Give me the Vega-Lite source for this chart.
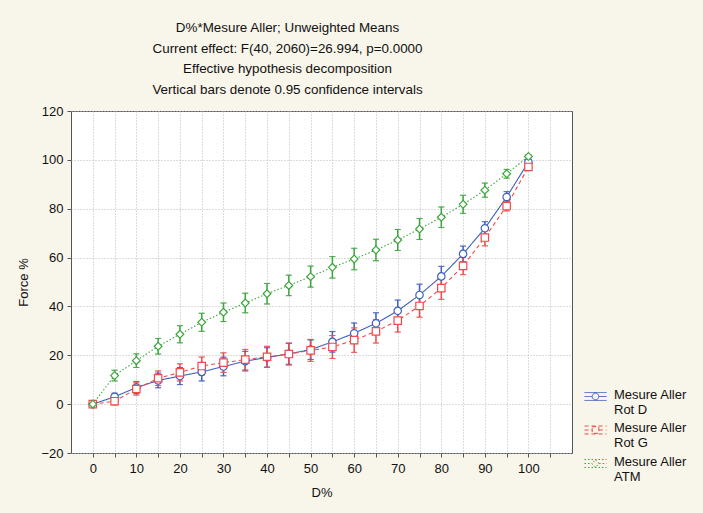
{
  "$schema": "https://vega.github.io/schema/vega-lite/v6.json",
  "width": 501,
  "height": 342,
  "autosize": "none",
  "padding": {"left": 71, "top": 111, "right": 131, "bottom": 60},
  "background": "#f8f5ea",
  "title": {
    "text": ["D%*Mesure Aller; Unweighted Means", "Current effect: F(40, 2060)=26.994, p=0.0000", "Effective hypothesis decomposition", "Vertical bars denote 0.95 confidence intervals"],
    "font": "Liberation Sans",
    "fontSize": 13.4,
    "fontWeight": "normal",
    "color": "#111",
    "lineHeight": 20.4,
    "anchor": "middle",
    "dx": -34,
    "offset": 9
  },
  "config": {
    "view": {"fill": "white", "stroke": "#555", "strokeWidth": 1},
    "axis": {
      "labelFont": "Liberation Sans",
      "labelFontSize": 13,
      "labelColor": "#111",
      "titleFont": "Liberation Sans",
      "titleFontSize": 13,
      "titleFontWeight": "normal",
      "titleColor": "#111",
      "grid": true,
      "gridColor": "#b8b8b8",
      "gridDash": [1, 2],
      "domain": false,
      "tickColor": "#555",
      "tickSize": 4
    }
  },
  "datasets": {
    "pts": [
      {"D": 0, "serie": "Mesure Aller|Rot D", "m": 0, "lo": 0, "hi": 0},
      {"D": 5, "serie": "Mesure Aller|Rot D", "m": 3.0, "lo": 1.5, "hi": 4.5},
      {"D": 10, "serie": "Mesure Aller|Rot D", "m": 6.8, "lo": 4.3, "hi": 9.3},
      {"D": 15, "serie": "Mesure Aller|Rot D", "m": 9.7, "lo": 6.7, "hi": 12.7},
      {"D": 20, "serie": "Mesure Aller|Rot D", "m": 11.5, "lo": 8.0, "hi": 15.0},
      {"D": 25, "serie": "Mesure Aller|Rot D", "m": 13.2, "lo": 9.5, "hi": 16.9},
      {"D": 30, "serie": "Mesure Aller|Rot D", "m": 15.4, "lo": 11.6, "hi": 19.2},
      {"D": 35, "serie": "Mesure Aller|Rot D", "m": 17.6, "lo": 13.6, "hi": 21.6},
      {"D": 40, "serie": "Mesure Aller|Rot D", "m": 19.1, "lo": 15.1, "hi": 23.1},
      {"D": 45, "serie": "Mesure Aller|Rot D", "m": 20.6, "lo": 16.3, "hi": 24.9},
      {"D": 50, "serie": "Mesure Aller|Rot D", "m": 22.3, "lo": 18.3, "hi": 26.3},
      {"D": 55, "serie": "Mesure Aller|Rot D", "m": 25.5, "lo": 21.3, "hi": 29.7},
      {"D": 60, "serie": "Mesure Aller|Rot D", "m": 29.0, "lo": 24.8, "hi": 33.2},
      {"D": 65, "serie": "Mesure Aller|Rot D", "m": 33.1, "lo": 28.8, "hi": 37.4},
      {"D": 70, "serie": "Mesure Aller|Rot D", "m": 38.2, "lo": 33.8, "hi": 42.6},
      {"D": 75, "serie": "Mesure Aller|Rot D", "m": 44.7, "lo": 40.3, "hi": 49.1},
      {"D": 80, "serie": "Mesure Aller|Rot D", "m": 52.3, "lo": 48.2, "hi": 56.4},
      {"D": 85, "serie": "Mesure Aller|Rot D", "m": 61.5, "lo": 58.3, "hi": 64.7},
      {"D": 90, "serie": "Mesure Aller|Rot D", "m": 72.0, "lo": 69.3, "hi": 74.7},
      {"D": 95, "serie": "Mesure Aller|Rot D", "m": 84.8, "lo": 82.6, "hi": 87.0},
      {"D": 100, "serie": "Mesure Aller|Rot D", "m": 99.1, "lo": 98.1, "hi": 100.1},
      {"D": 0, "serie": "Mesure Aller|Rot G", "m": 0, "lo": 0, "hi": 0},
      {"D": 5, "serie": "Mesure Aller|Rot G", "m": 1.2, "lo": -0.3, "hi": 2.7},
      {"D": 10, "serie": "Mesure Aller|Rot G", "m": 6.2, "lo": 3.7, "hi": 8.7},
      {"D": 15, "serie": "Mesure Aller|Rot G", "m": 10.6, "lo": 7.6, "hi": 13.6},
      {"D": 20, "serie": "Mesure Aller|Rot G", "m": 13.0, "lo": 9.5, "hi": 16.5},
      {"D": 25, "serie": "Mesure Aller|Rot G", "m": 15.6, "lo": 11.9, "hi": 19.3},
      {"D": 30, "serie": "Mesure Aller|Rot G", "m": 17.0, "lo": 13.0, "hi": 21.0},
      {"D": 35, "serie": "Mesure Aller|Rot G", "m": 18.2, "lo": 14.0, "hi": 22.4},
      {"D": 40, "serie": "Mesure Aller|Rot G", "m": 19.4, "lo": 15.1, "hi": 23.7},
      {"D": 45, "serie": "Mesure Aller|Rot G", "m": 20.5, "lo": 16.0, "hi": 25.0},
      {"D": 50, "serie": "Mesure Aller|Rot G", "m": 22.0, "lo": 17.5, "hi": 26.5},
      {"D": 55, "serie": "Mesure Aller|Rot G", "m": 23.4, "lo": 18.7, "hi": 28.1},
      {"D": 60, "serie": "Mesure Aller|Rot G", "m": 26.2, "lo": 21.2, "hi": 31.2},
      {"D": 65, "serie": "Mesure Aller|Rot G", "m": 29.8, "lo": 25.0, "hi": 34.6},
      {"D": 70, "serie": "Mesure Aller|Rot G", "m": 34.2, "lo": 29.5, "hi": 38.9},
      {"D": 75, "serie": "Mesure Aller|Rot G", "m": 40.2, "lo": 35.6, "hi": 44.8},
      {"D": 80, "serie": "Mesure Aller|Rot G", "m": 47.5, "lo": 42.9, "hi": 52.1},
      {"D": 85, "serie": "Mesure Aller|Rot G", "m": 56.6, "lo": 53.0, "hi": 60.2},
      {"D": 90, "serie": "Mesure Aller|Rot G", "m": 68.2, "lo": 64.8, "hi": 71.6},
      {"D": 95, "serie": "Mesure Aller|Rot G", "m": 81.1, "lo": 79.1, "hi": 83.1},
      {"D": 100, "serie": "Mesure Aller|Rot G", "m": 97.1, "lo": 96.1, "hi": 98.1},
      {"D": 0, "serie": "Mesure Aller|ATM", "m": 0, "lo": 0, "hi": 0},
      {"D": 5, "serie": "Mesure Aller|ATM", "m": 11.7, "lo": 9.5, "hi": 13.9},
      {"D": 10, "serie": "Mesure Aller|ATM", "m": 17.8, "lo": 15.0, "hi": 20.6},
      {"D": 15, "serie": "Mesure Aller|ATM", "m": 23.7, "lo": 20.5, "hi": 26.9},
      {"D": 20, "serie": "Mesure Aller|ATM", "m": 28.6, "lo": 25.1, "hi": 32.1},
      {"D": 25, "serie": "Mesure Aller|ATM", "m": 33.5, "lo": 29.8, "hi": 37.2},
      {"D": 30, "serie": "Mesure Aller|ATM", "m": 37.6, "lo": 33.8, "hi": 41.4},
      {"D": 35, "serie": "Mesure Aller|ATM", "m": 41.4, "lo": 37.4, "hi": 45.4},
      {"D": 40, "serie": "Mesure Aller|ATM", "m": 45.2, "lo": 41.0, "hi": 49.4},
      {"D": 45, "serie": "Mesure Aller|ATM", "m": 48.6, "lo": 44.4, "hi": 52.8},
      {"D": 50, "serie": "Mesure Aller|ATM", "m": 52.2, "lo": 47.9, "hi": 56.5},
      {"D": 55, "serie": "Mesure Aller|ATM", "m": 56.0, "lo": 51.6, "hi": 60.4},
      {"D": 60, "serie": "Mesure Aller|ATM", "m": 59.4, "lo": 55.0, "hi": 63.8},
      {"D": 65, "serie": "Mesure Aller|ATM", "m": 63.1, "lo": 58.7, "hi": 67.5},
      {"D": 70, "serie": "Mesure Aller|ATM", "m": 67.2, "lo": 62.9, "hi": 71.5},
      {"D": 75, "serie": "Mesure Aller|ATM", "m": 71.7, "lo": 67.4, "hi": 76.0},
      {"D": 80, "serie": "Mesure Aller|ATM", "m": 76.5, "lo": 72.3, "hi": 80.7},
      {"D": 85, "serie": "Mesure Aller|ATM", "m": 81.8, "lo": 78.1, "hi": 85.5},
      {"D": 90, "serie": "Mesure Aller|ATM", "m": 87.6, "lo": 84.7, "hi": 90.5},
      {"D": 95, "serie": "Mesure Aller|ATM", "m": 94.3, "lo": 92.5, "hi": 96.1},
      {"D": 100, "serie": "Mesure Aller|ATM", "m": 101.4, "lo": 100.8, "hi": 102.0}
    ]
  },
  "data": {"name": "pts"},
  "encoding": {
    "x": {
      "field": "D", "type": "quantitative",
      "scale": {"domain": [-5, 110], "nice": false, "zero": false},
      "axis": {
        "title": "D%",
        "values": [0, 5, 10, 15, 20, 25, 30, 35, 40, 45, 50, 55, 60, 65, 70, 75, 80, 85, 90, 95, 100, 105],
        "labelExpr": "datum.value % 10 == 0 ? datum.label : ''",
        "labelPadding": 5,
        "titlePadding": 11
      }
    },
    "color": {
      "field": "serie", "type": "nominal",
      "scale": {"domain": ["Mesure Aller|Rot D", "Mesure Aller|Rot G", "Mesure Aller|ATM"], "range": ["#3f5fbf", "#f04a4a", "#3da53d"]},
      "legend": {
        "title": null,
        "orient": "none",
        "legendX": 513,
        "legendY": 274,
        "labelExpr": "split(datum.label, '|')",
        "labelFont": "Liberation Sans",
        "labelFontSize": 13,
        "labelColor": "#111",
        "labelBaseline": "top",
        "labelOffset": 7,
        "symbolSize": 484,
        "symbolStrokeWidth": 1,
        "symbolOpacity": 1,
        "rowPadding": 1.5,
        "labelLimit": 200,
        "encode": {
          "symbols": {
            "update": {
              "shape": {"signal": "datum.value == 'Mesure Aller|Rot D' ? 'M-1,-0.36H1M-1,0.36H1M0,-0.36V-0.3M0,0.3V0.36M-1,0H-0.3M0.3,0H1M-0.3,0A0.3,0.3 0 1,0 0.3,0A0.3,0.3 0 1,0 -0.3,0' : datum.value == 'Mesure Aller|Rot G' ? 'M-1,-0.36H1M-1,0.36H1M0,-0.36V-0.3M0,0.3V0.36M-1,0H-0.3M0.3,0H1M-0.3,-0.3H0.3V0.3H-0.3Z' : 'M-1,-0.36H1M-1,0.36H1M0,-0.36V-0.33M0,0.33V0.36M-1,0H-0.33M0.33,0H1M0,-0.33L0.33,0L0,0.33L-0.33,0Z'"},
              "fill": {"value": "transparent"},
              "strokeWidth": {"value": 1}
            }
          },
          "labels": {
            "update": {
              "dy": {"value": -8}
            }
          }
        }
      }
    }
  },
  "layer": [
    {
      "mark": {"type": "line", "strokeWidth": 1.1},
      "encoding": {
        "y": {
          "field": "m", "type": "quantitative",
          "scale": {"domain": [-20, 120], "nice": false},
          "axis": {
            "title": "Force %",
            "values": [-20, 0, 20, 40, 60, 80, 100, 120],
            "labelPadding": 4,
            "titlePadding": 10
          }
        },
        "strokeDash": {
          "field": "serie", "type": "nominal",
          "scale": {"domain": ["Mesure Aller|Rot D", "Mesure Aller|Rot G", "Mesure Aller|ATM"], "range": [[1, 0], [4, 3], [1.5, 2]]},
          "legend": null
        }
      }
    },
    {
      "mark": {"type": "rule", "strokeWidth": 1.5},
      "encoding": {
        "y": {"field": "lo", "type": "quantitative"},
        "y2": {"field": "hi"}
      }
    },
    {
      "mark": {"type": "tick", "orient": "horizontal", "size": 6, "thickness": 0.01, "filled": false, "strokeWidth": 1},
      "encoding": {"y": {"field": "lo", "type": "quantitative"}}
    },
    {
      "mark": {"type": "tick", "orient": "horizontal", "size": 6, "thickness": 0.01, "filled": false, "strokeWidth": 1},
      "encoding": {"y": {"field": "hi", "type": "quantitative"}}
    },
    {
      "transform": [{"filter": "datum.serie == 'Mesure Aller|Rot D'"}],
      "mark": {"type": "point", "shape": "circle", "filled": false, "fill": "white", "fillOpacity": 1, "size": 55, "strokeWidth": 1.2, "opacity": 1},
      "encoding": {"y": {"field": "m", "type": "quantitative"}}
    },
    {
      "transform": [{"filter": "datum.serie == 'Mesure Aller|Rot G'"}],
      "mark": {"type": "point", "shape": "square", "filled": false, "fill": "white", "fillOpacity": 1, "size": 55, "strokeWidth": 1.2, "opacity": 1},
      "encoding": {"y": {"field": "m", "type": "quantitative"}}
    },
    {
      "transform": [{"filter": "datum.serie == 'Mesure Aller|ATM'"}],
      "mark": {"type": "point", "shape": "diamond", "filled": false, "fill": "white", "fillOpacity": 1, "size": 60, "strokeWidth": 1.2, "opacity": 1},
      "encoding": {"y": {"field": "m", "type": "quantitative"}}
    }
  ]
}
